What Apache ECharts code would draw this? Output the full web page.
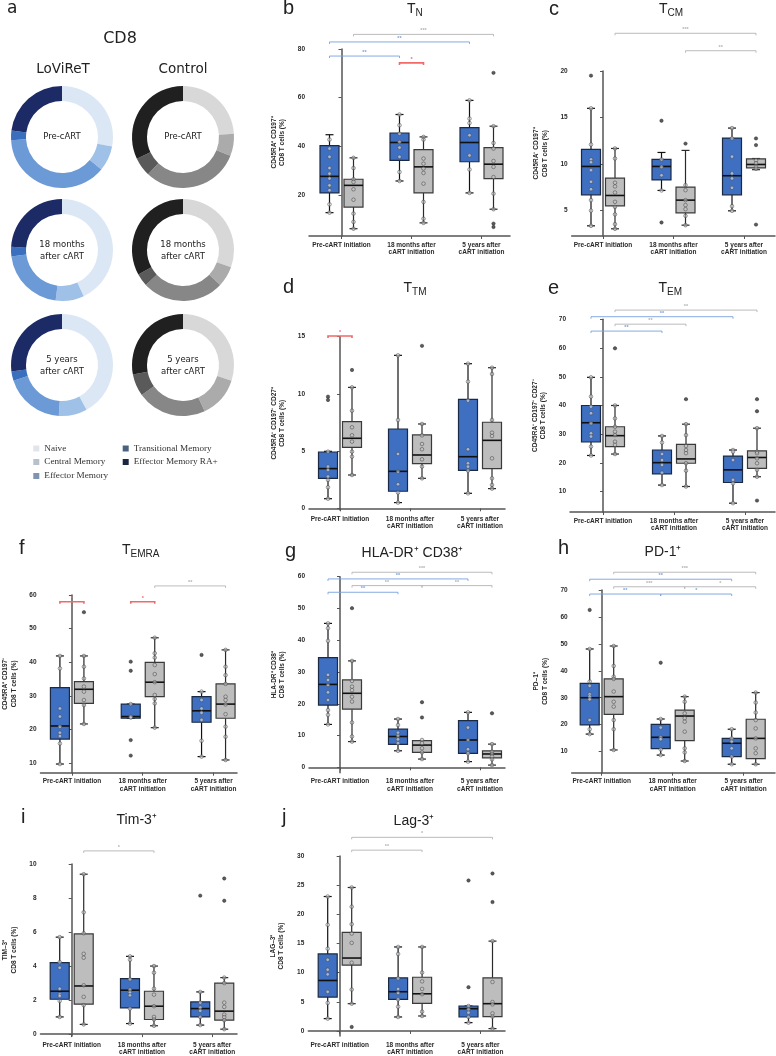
<!DOCTYPE html>
<html><head><meta charset="utf-8">
<script src="https://cdn.jsdelivr.net/npm/echarts@6/dist/echarts.min.js"></script>
<style>html,body{margin:0;padding:0;background:#fff}#c{width:776px;height:1056px}</style>
</head><body><div id="c"></div>
<script>
// ---------- categories / labels ----------
const CATEGORIES = ['Pre-cART initiation', '18 months after\ncART initiation', '5 years after\ncART initiation'];
const SUBSETS = ['Naive', 'Central Memory', 'Effector Memory', 'Transitional Memory', 'Effector Memory RA+'];

// ---------- panel a: donut shares (%) in SUBSETS order ----------
const DONUT_LOV_PRE = [28, 8, 38, 3, 23];
const DONUT_LOV_18M = [43, 9, 21, 3, 24];
const DONUT_LOV_5Y = [42, 9, 19, 3, 27];
const DONUT_CTL_PRE = [24, 7, 31, 6, 32];
const DONUT_CTL_18M = [30.5, 6.5, 26, 4, 33];
const DONUT_CTL_5Y = [30, 13, 22, 7, 28];

// ---------- box stats: [low whisker, Q1, median, Q3, high whisker] per timepoint ----------
// points / outliers per timepoint; sig = [cat1, group1, cat2, group2, y, label]
// b  T_N
const B_TICKS = [20, 40, 60, 80];
const B_LOV_BOX = [[12.8, 20.9, 27.7, 40.3, 44.8], [25.8, 34.3, 41.6, 45.5, 53.1], [20.9, 33.7, 41.6, 47.7, 58.9]];
const B_CTL_BOX = [[6.2, 15.1, 24.0, 26.5, 35.3], [8.6, 20.9, 31.6, 38.7, 43.9], [14.2, 26.8, 32.7, 39.5, 48.3]];
const B_LOV_PTS = [[42.8, 39.1, 35.7, 31.1, 28.8, 26.8, 24.0, 22.0, 16.2, 12.8], [53.1, 48.7, 45.2, 41.8, 39.5, 35.7, 29.5, 25.8], [58.9, 51.4, 49.6, 44.6, 36.3, 30.5, 20.9]];
const B_CTL_PTS = [[35.3, 31.1, 26.5, 25.4, 22.4, 18.1, 12.4, 9.0, 6.2], [43.9, 42.8, 35.0, 32.9, 30.9, 29.1, 24.7, 17.2, 10.3, 8.6], [48.3, 41.4, 39.1, 34.0, 31.6, 27.4, 20.6, 14.2]];
const B_LOV_OUT = [[], [], []];
const B_CTL_OUT = [[], [], [70.2, 8.3, 6.9]];
const B_SIG = [[0, 'C', 2, 'C', 86.0, '***'], [0, 'L', 2, 'L', 82.9, '**'], [0, 'L', 1, 'L', 77.1, '**'], [1, 'L', 1, 'C', 74.3, '*']];
// c  T_CM
const C_TICKS = [5, 10, 15, 20];
const C_LOV_BOX = [[3.37, 6.70, 9.75, 11.58, 15.99], [7.17, 8.3, 9.75, 10.5, 11.25], [4.98, 6.7, 8.75, 12.8, 13.87]];
const C_CTL_BOX = [[3.05, 5.52, 6.63, 8.5, 11.68], [3.44, 4.77, 6.13, 7.53, 11.47], [9.4, 9.6, 9.96, 10.57, 10.6]];
const C_LOV_PTS = [[15.99, 12.1, 10.5, 10.2, 9.35, 8.1, 7.3, 6.13, 5.0, 3.37], [10.5, 9.7, 8.8, 7.17], [13.87, 12.76, 10.8, 9.0, 8.46, 7.45, 5.48, 4.98]];
const C_CTL_PTS = [[11.68, 10.6, 8.0, 7.6, 6.95, 5.95, 5.4, 4.6, 3.55, 3.05], [7.74, 7.2, 6.13, 5.6, 5.16, 4.44, 3.44], [10.4, 10.1, 9.7, 9.5]];
const C_LOV_OUT = [[19.5], [14.66, 3.73], []];
const C_CTL_OUT = [[], [12.2], [12.76, 12.04, 3.5]];
const C_SIG = [[0, 'C', 2, 'C', 24.05, '***'], [1, 'C', 2, 'C', 22.18, '**']];
// d  T_TM
const D_TICKS = [0, 5, 10, 15];
const D_LOV_BOX = [[0.84, 2.62, 3.47, 4.92, 4.98], [0.5, 1.49, 3.23, 6.93, 13.37], [1.31, 3.32, 4.51, 9.52, 12.64]];
const D_CTL_BOX = [[2.91, 5.33, 6.12, 7.57, 10.57], [2.62, 3.9, 4.66, 6.41, 7.37], [1.72, 3.47, 5.94, 7.52, 12.29]];
const D_LOV_PTS = [[4.95, 3.64, 3.35, 2.77, 2.48, 1.84, 0.84], [13.37, 7.72, 4.75, 3.2, 2.1, 1.37, 0.5], [12.64, 11.07, 9.41, 5.16, 3.93, 3.64, 3.29, 1.31]];
const D_CTL_PTS = [[10.57, 8.53, 7.08, 6.38, 5.83, 4.95, 4.51, 2.91], [7.37, 6.38, 5.62, 5.16, 4.28, 3.64, 2.62], [12.29, 11.74, 7.72, 6.61, 6.32, 4.37, 2.62, 2.04, 1.72]];
const D_LOV_OUT = [[9.76, 9.47], [], []];
const D_CTL_OUT = [[12.09], [14.2], []];
const D_SIG = [[0, 'L', 0, 'C', 15.06, '*']];
// e  T_EM
const E_TICKS = [10, 20, 30, 40, 50, 60, 70];
const E_LOV_BOX = [[22.6, 27.3, 34.0, 40.0, 49.8], [12.3, 16.2, 20.1, 24.5, 29.4], [6.0, 13.2, 17.6, 22.4, 24.5]];
const E_CTL_BOX = [[23.1, 25.7, 29.5, 32.6, 40.0], [11.8, 19.9, 21.4, 26.5, 33.5], [15.2, 18.1, 21.9, 24.2, 32.1]];
const E_LOV_PTS = [[49.8, 43.1, 39.6, 37.3, 33.8, 30.3, 29.2, 25.7, 22.6], [29.4, 27.1, 23.1, 21.0, 19.3, 16.6, 12.3], [24.5, 23.9, 21.0, 14.1, 12.9, 6.0]];
const E_CTL_PTS = [[40.0, 35.5, 32.6, 30.9, 29.7, 27.4, 26.3, 23.1], [33.5, 29.7, 25.9, 24.5, 23.4, 19.9, 17.3, 11.8], [32.1, 23.9, 23.4, 21.6, 19.9, 17.6, 15.2]];
const E_LOV_OUT = [[], [], []];
const E_CTL_OUT = [[59.9], [42.2], [42.2, 38.0, 6.9]];
const E_SIG = [[0, 'C', 2, 'C', 73.2, '**'], [0, 'L', 2, 'L', 70.9, '**'], [0, 'C', 1, 'C', 68.3, '**'], [0, 'L', 1, 'L', 65.9, '**']];
// f  T_EMRA
const F_TICKS = [10, 20, 30, 40, 50, 60];
const F_LOV_BOX = [[9.8, 17.2, 21.1, 32.5, 41.9], [23.4, 23.4, 23.9, 27.6, 27.6], [12.0, 22.2, 25.6, 29.8, 31.3]];
const F_CTL_BOX = [[21.7, 27.8, 32.0, 34.3, 41.9], [20.6, 29.8, 34.1, 40.0, 47.3], [11.0, 23.4, 27.6, 33.6, 43.7]];
const F_LOV_PTS = [[41.9, 38.2, 26.3, 23.9, 20.9, 19.1, 18.1, 15.9, 9.8], [27.6, 23.9, 23.6], [31.3, 28.8, 26.3, 25.0, 22.9, 16.7, 12.0]];
const F_CTL_PTS = [[41.9, 38.7, 35.2, 32.8, 31.3, 28.8, 27.3, 21.7], [47.3, 42.7, 41.4, 39.2, 36.5, 34.1, 30.3, 29.1, 27.8, 20.6], [43.7, 38.7, 36.2, 33.6, 29.8, 28.8, 27.5, 24.6, 20.9, 17.9, 11.0]];
const F_LOV_OUT = [[], [40.2, 37.5, 16.9, 12.3], [42.2]];
const F_CTL_OUT = [[54.9], [], []];
const F_SIG = [[0, 'L', 0, 'C', 58.0, '*'], [1, 'L', 1, 'C', 58.0, '*'], [1, 'C', 2, 'C', 62.7, '**']];
// g  HLA-DR+ CD38+
const G_TICKS = [0, 10, 20, 30, 40, 50, 60];
const G_LOV_BOX = [[13.5, 19.6, 26.1, 34.5, 45.3], [5.2, 7.2, 9.7, 12.0, 15.2], [1.8, 4.4, 8.6, 14.7, 17.3]];
const G_CTL_BOX = [[8.1, 18.3, 23.3, 27.5, 33.5], [2.6, 4.7, 7.0, 8.4, 8.4], [0.7, 3.0, 4.2, 5.2, 7.3]];
const G_LOV_PTS = [[45.3, 43.8, 39.8, 29.1, 27.5, 25.9, 23.6, 21.2, 18.0, 16.5, 13.5], [15.2, 13.3, 10.9, 9.9, 8.8, 7.6, 5.2], [17.3, 12.5, 8.6, 5.7, 4.4, 1.8]];
const G_CTL_PTS = [[33.5, 27.2, 25.4, 24.3, 22.2, 20.7, 14.1, 9.7, 8.1], [8.6, 7.6, 6.0, 4.7, 2.6], [7.3, 4.9, 4.2, 3.4, 2.5, 0.7]];
const G_LOV_OUT = [[], [], []];
const G_CTL_OUT = [[50.1], [20.5, 15.7], [17.0]];
const G_SIG = [[0, 'C', 2, 'C', 61.4, '***'], [0, 'L', 2, 'L', 59.3, '**'], [0, 'C', 1, 'C', 57.2, '**'], [1, 'C', 2, 'C', 57.2, '**'], [0, 'L', 1, 'L', 55.1, '**']];
// h  PD-1+
const H_TICKS = [10, 20, 30, 40, 50, 60, 70];
const H_LOV_BOX = [[16.5, 19.9, 30.0, 35.3, 48.1], [8.7, 11.1, 15.3, 20.1, 22.1], [5.3, 8.1, 13.1, 14.9, 18.3]];
const H_CTL_BOX = [[10.6, 23.8, 30.4, 37.0, 49.2], [6.5, 14.1, 23.2, 25.4, 30.4], [5.3, 7.4, 14.9, 22.0, 31.9]];
const H_LOV_PTS = [[48.1, 36.0, 34.4, 31.3, 30.4, 29.4, 21.7, 18.3, 16.5], [22.1, 18.9, 15.3, 14.6, 10.8, 8.7], [18.3, 14.9, 13.7, 11.2, 8.1, 5.3]];
const H_CTL_PTS = [[49.2, 41.8, 37.8, 37.0, 32.3, 28.5, 26.7, 21.7, 18.3, 10.6], [30.4, 28.5, 24.2, 22.4, 21.1, 17.4, 11.2, 9.7, 6.5], [31.9, 28.2, 24.5, 21.7, 18.6, 14.9, 11.2, 9.4, 5.3]];
const H_LOV_OUT = [[62.6], [43.0], []];
const H_CTL_OUT = [[], [], []];
const H_SIG = [[0, 'C', 2, 'C', 76.6, '***'], [0, 'L', 2, 'L', 74.0, '**'], [0, 'C', 1, 'C', 71.2, '***'], [1, 'C', 2, 'C', 71.2, '*'], [0, 'L', 1, 'L', 68.5, '**'], [1, 'L', 2, 'L', 68.5, '*']];
// i  Tim-3+
const I_TICKS = [0, 2, 4, 6, 8, 10];
const I_LOV_BOX = [[1.01, 2.05, 2.52, 4.2, 5.70], [0.62, 1.54, 2.58, 3.26, 4.57], [0.53, 1.01, 1.50, 1.89, 2.48]];
const I_CTL_BOX = [[0.57, 1.76, 2.83, 5.89, 9.40], [0.49, 0.86, 1.64, 2.52, 4.0], [0.29, 0.82, 1.35, 3.0, 3.32]];
const I_LOV_PTS = [[5.70, 4.23, 3.9, 2.67, 2.34, 2.24, 1.95, 1.01], [4.57, 4.37, 3.22, 2.61, 2.44, 2.28, 1.5, 0.62], [2.48, 1.85, 1.56, 1.37, 1.01, 0.53]];
const I_CTL_PTS = [[9.40, 7.16, 5.93, 4.72, 4.49, 2.87, 2.19, 1.70, 0.57], [4.0, 3.61, 2.67, 2.32, 1.64, 1.01, 0.86, 0.49], [3.32, 3.0, 1.85, 1.6, 1.15, 1.0, 0.82, 0.29]];
const I_LOV_OUT = [[], [], [8.14]];
const I_CTL_OUT = [[], [], [9.15, 7.84]];
const I_SIG = [[0, 'C', 1, 'C', 10.77, '*']];
// j  Lag-3+
const J_TICKS = [0, 5, 10, 15, 20, 25, 30];
const J_LOV_BOX = [[2.11, 5.81, 8.65, 13.2, 23.05], [2.39, 5.41, 6.72, 9.1, 14.4], [1.42, 2.39, 3.81, 4.27, 4.27]];
const J_CTL_BOX = [[4.67, 11.3, 12.5, 16.9, 24.6], [2.56, 4.72, 6.37, 9.2, 14.4], [0.4, 2.45, 4.67, 9.1, 15.4]];
const J_LOV_PTS = [[23.05, 18.2, 14.1, 12.2, 10.5, 9.7, 6.7, 4.8, 2.11], [14.4, 13.2, 9.0, 7.2, 6.5, 5.41, 4.15, 2.39], [4.27, 3.7, 3.13, 2.39, 1.42]];
const J_CTL_PTS = [[24.6, 21.3, 18.3, 16.7, 15.1, 11.7, 7.1, 4.67], [14.4, 10.0, 8.5, 7.2, 6.3, 3.3, 2.56], [15.4, 8.4, 4.95, 4.55, 3.0, 2.45, 0.4]];
const J_LOV_OUT = [[], [], [25.8, 7.5]];
const J_CTL_OUT = [[0.68], [], [27.0, 22.1]];
const J_SIG = [[0, 'C', 2, 'C', 33.2, '*'], [0, 'C', 1, 'C', 31.0, '**']];

// ---------- styling / layout ----------
const FONT = 'Liberation Sans';
const LOV_COLORS = ['#dce7f6', '#9fc0e7', '#6c9ad6', '#3a6fbd', '#1c2a66'];
const CTL_COLORS = ['#d8d8d8', '#ababab', '#878787', '#5a5a5a', '#202020'];
const LEGEND_COLORS = ['#e1e5ea', '#b7c0cb', '#7f94b0', '#4b6180', '#1d2641'];
const GROUP_STYLE = [
  { fill: '#3e6fc0', stroke: '#1b2a44', whisker: '#111' },
  { fill: '#bdbdbd', stroke: '#3a3a3a', whisker: '#2a2a2a' }
];
const SIG_COLOR = { L: '#78a2e0', C: '#b3b3b3', X: '#f06a6a' };
const OFF = 12, HW = 9.5, CW = 4;

const PANELS = [
  { box: [B_LOV_BOX, B_CTL_BOX], pts: [B_LOV_PTS, B_CTL_PTS], out: [B_LOV_OUT, B_CTL_OUT], sig: B_SIG, ticks: B_TICKS,
    yName: 'CD45RA\u207A CD197\u207A\nCD8 T cells (%)', L: { ax: 309, c0: 341.5, step: 70, xEnd: 510, top: 49, bottom: 236, yTop: 80, pxu: 2.435 } },
  { box: [C_LOV_BOX, C_CTL_BOX], pts: [C_LOV_PTS, C_CTL_PTS], out: [C_LOV_OUT, C_CTL_OUT], sig: C_SIG, ticks: C_TICKS,
    yName: 'CD45RA\u207B CD197\u207A\nCD8 T cells (%)', L: { ax: 571.7, c0: 603, step: 70.5, xEnd: 775, top: 71, bottom: 236, yTop: 20, pxu: 9.31 } },
  { box: [D_LOV_BOX, D_CTL_BOX], pts: [D_LOV_PTS, D_CTL_PTS], out: [D_LOV_OUT, D_CTL_OUT], sig: D_SIG, ticks: D_TICKS,
    yName: 'CD45RA\u207B CD197\u207B CD27\u207A\nCD8 T cells (%)', L: { ax: 309, c0: 340, step: 70, xEnd: 505, top: 336.7, bottom: 510, yTop: 15, pxu: 11.44 } },
  { box: [E_LOV_BOX, E_CTL_BOX], pts: [E_LOV_PTS, E_CTL_PTS], out: [E_LOV_OUT, E_CTL_OUT], sig: E_SIG, ticks: E_TICKS,
    yName: 'CD45RA\u207B CD197\u207B CD27\u207B\nCD8 T cells (%)', L: { ax: 570, c0: 603, step: 71, xEnd: 775, top: 319.3, bottom: 512, yTop: 70, pxu: 2.873 } },
  { box: [F_LOV_BOX, F_CTL_BOX], pts: [F_LOV_PTS, F_CTL_PTS], out: [F_LOV_OUT, F_CTL_OUT], sig: F_SIG, ticks: F_TICKS,
    yName: 'CD45RA\u207A CD197\u207B\nCD8 T cells (%)', L: { ax: 40, c0: 71.5, step: 71, xEnd: 237, top: 595, bottom: 772.7, yTop: 60, pxu: 3.367 } },
  { box: [G_LOV_BOX, G_CTL_BOX], pts: [G_LOV_PTS, G_CTL_PTS], out: [G_LOV_OUT, G_CTL_OUT], sig: G_SIG, ticks: G_TICKS,
    yName: 'HLA-DR\u207A CD38\u207A\nCD8 T cells (%)', L: { ax: 309, c0: 340, step: 70, xEnd: 505, top: 576.7, bottom: 772.7, yTop: 60, pxu: 3.177 } },
  { box: [H_LOV_BOX, H_CTL_BOX], pts: [H_LOV_PTS, H_CTL_PTS], out: [H_LOV_OUT, H_CTL_OUT], sig: H_SIG, ticks: H_TICKS,
    yName: 'PD\u20131\u207A\nCD8 T cells (%)', L: { ax: 571.7, c0: 601.7, step: 71, xEnd: 775, top: 590, bottom: 772.7, yTop: 70, pxu: 2.693 } },
  { box: [I_LOV_BOX, I_CTL_BOX], pts: [I_LOV_PTS, I_CTL_PTS], out: [I_LOV_OUT, I_CTL_OUT], sig: I_SIG, ticks: I_TICKS,
    yName: 'TIM\u20133\u207A\nCD8 T cells (%)', L: { ax: 39.3, c0: 70.7, step: 70.7, xEnd: 237, top: 864, bottom: 1036.7, yTop: 10, pxu: 17.08 } },
  { box: [J_LOV_BOX, J_CTL_BOX], pts: [J_LOV_PTS, J_CTL_PTS], out: [J_LOV_OUT, J_CTL_OUT], sig: J_SIG, ticks: J_TICKS,
    yName: 'LAG\u20133\u207A\nCD8 T cells (%)', L: { ax: 308.3, c0: 339.7, step: 70.4, xEnd: 505, top: 856, bottom: 1036.7, yTop: 30, pxu: 5.853 } }
];

function boxRender(g) {
  const st = GROUP_STYLE[g];
  const dx = g === 0 ? -OFF : OFF;
  return function (params, api) {
    const x = api.value(0);
    const lo = api.coord([x, api.value(1)]);
    const q1 = api.coord([x, api.value(2)]);
    const md = api.coord([x, api.value(3)]);
    const q3 = api.coord([x, api.value(4)]);
    const hi = api.coord([x, api.value(5)]);
    const cx = lo[0] + dx;
    const ls = { stroke: st.whisker, lineWidth: 1.2 };
    return { type: 'group', children: [
      { type: 'line', shape: { x1: cx, y1: hi[1], x2: cx, y2: q3[1] }, style: ls },
      { type: 'line', shape: { x1: cx, y1: q1[1], x2: cx, y2: lo[1] }, style: ls },
      { type: 'line', shape: { x1: cx - CW, y1: hi[1], x2: cx + CW, y2: hi[1] }, style: ls },
      { type: 'line', shape: { x1: cx - CW, y1: lo[1], x2: cx + CW, y2: lo[1] }, style: ls },
      { type: 'rect', shape: { x: cx - HW, y: q3[1], width: 2 * HW, height: Math.max(q1[1] - q3[1], 0.5) },
        style: { fill: st.fill, stroke: st.stroke, lineWidth: 1.2 } },
      { type: 'line', shape: { x1: cx - HW, y1: md[1], x2: cx + HW, y2: md[1] }, style: { stroke: '#111', lineWidth: 1.6 } }
    ] };
  };
}

function sigRender(sig) {
  return function (params, api) {
    const s = sig[params.dataIndex];
    const p1 = api.coord([s[0], s[4]]);
    const p2 = api.coord([s[2], s[4]]);
    const x1 = p1[0] + (s[1] === 'L' ? -OFF : OFF);
    const x2 = p2[0] + (s[3] === 'L' ? -OFF : OFF);
    const kind = s[1] === s[3] ? s[1] : 'X';
    const col = SIG_COLOR[kind];
    const y = p1[1];
    return { type: 'group', children: [
      { type: 'polyline', shape: { points: [[x1, y + 2], [x1, y], [x2, y], [x2, y + 2]] },
        style: { stroke: col, lineWidth: kind === 'X' ? 1.6 : 0.9, fill: null } },
      { type: 'text', x: (x1 + x2) / 2, y: y - 0.5,
        style: { text: s[5], fill: col, fontSize: 5.5, fontFamily: FONT, fontWeight: 'bold',
          align: 'center', verticalAlign: 'bottom', textAlign: 'center', textVerticalAlign: 'bottom' } }
    ] };
  };
}

const grids = [], xAxes = [], yAxes = [], series = [];
const axisColor = '#555';
PANELS.forEach(function (p, i) {
  const L = p.L;
  grids.push({ left: L.ax, top: L.top, width: L.xEnd - L.ax, height: L.bottom - L.top });
  const xmin = (L.ax - L.c0) / L.step, xmax = (L.xEnd - L.c0) / L.step;
  const ymin = L.yTop - (L.bottom - L.top) / L.pxu;
  xAxes.push({
    type: 'value', gridIndex: i, min: xmin, max: xmax,
    axisLine: { show: true, lineStyle: { color: axisColor, width: 1.5 } },
    axisTick: { show: true, length: 3, lineStyle: { color: axisColor, width: 1 }, customValues: [0, 1, 2] },
    axisLabel: { customValues: [0, 1, 2], formatter: function (v) { return CATEGORIES[Math.round(v)]; },
      fontSize: 6.5, fontWeight: 'bold', fontFamily: FONT, color: '#2a2a2a', lineHeight: 7.5, margin: 5 },
    splitLine: { show: false }
  });
  yAxes.push({
    type: 'value', gridIndex: i, min: ymin, max: L.yTop,
    axisLine: { show: true, lineStyle: { color: axisColor, width: 1.5 } },
    axisTick: { show: true, length: 3, lineStyle: { color: axisColor, width: 1 }, customValues: p.ticks },
    axisLabel: { customValues: p.ticks, fontSize: 6.5, fontWeight: 'bold', fontFamily: FONT, color: '#2a2a2a', margin: 4 },
    splitLine: { show: false },
    name: p.yName, nameLocation: 'middle', nameRotate: 90, nameGap: 31,
    nameTextStyle: { fontSize: 6.5, fontWeight: 'bold', fontFamily: FONT, color: '#2a2a2a', lineHeight: 8.5,
      align: 'center', verticalAlign: 'middle' }
  });
  [0, 1].forEach(function (g) {
    series.push({ type: 'custom', xAxisIndex: i, yAxisIndex: i, silent: true, z: 2,
      renderItem: boxRender(g),
      data: p.box[g].map(function (b, k) { return [k].concat(b); }) });
  });
  [0, 1].forEach(function (g) {
    const pts = [], outs = [];
    p.pts[g].forEach(function (arr, k) { arr.forEach(function (v) { pts.push([k, v]); }); });
    p.out[g].forEach(function (arr, k) { arr.forEach(function (v) { outs.push([k, v]); }); });
    series.push({ type: 'scatter', xAxisIndex: i, yAxisIndex: i, silent: true, z: 3,
      symbol: 'circle', symbolSize: 3.6, symbolOffset: [g === 0 ? -OFF : OFF, 0],
      itemStyle: { color: g === 0 ? 'rgba(235,240,250,0.7)' : 'rgba(200,200,200,0.7)', borderColor: '#4a4a4a', borderWidth: 0.7 },
      data: pts });
    series.push({ type: 'scatter', xAxisIndex: i, yAxisIndex: i, silent: true, z: 4,
      symbol: 'circle', symbolSize: 3.4, symbolOffset: [g === 0 ? -OFF : OFF, 0],
      itemStyle: { color: '#333', borderColor: '#111', borderWidth: 0.5 },
      data: outs });
  });
  series.push({ type: 'custom', xAxisIndex: i, yAxisIndex: i, silent: true, z: 3, clip: false,
    renderItem: sigRender(p.sig), data: p.sig.map(function (s) { return [s[0], s[4]]; }) });
});

// ---------- panel a donuts ----------
const DONUTS = [
  { d: DONUT_LOV_PRE, c: LOV_COLORS, center: [62, 137] },
  { d: DONUT_LOV_18M, c: LOV_COLORS, center: [62, 250] },
  { d: DONUT_LOV_5Y, c: LOV_COLORS, center: [62, 365] },
  { d: DONUT_CTL_PRE, c: CTL_COLORS, center: [183, 137] },
  { d: DONUT_CTL_18M, c: CTL_COLORS, center: [183, 250] },
  { d: DONUT_CTL_5Y, c: CTL_COLORS, center: [183, 365] }
];
DONUTS.forEach(function (o) {
  series.push({ type: 'pie', silent: true, center: o.center, radius: [36, 51], startAngle: 90, clockwise: true,
    label: { show: false }, labelLine: { show: false },
    data: o.d.map(function (v, k) { return { name: SUBSETS[k], value: v, itemStyle: { color: o.c[k] } }; }) });
});

// ---------- text helpers ----------
function txt(x, y, text, size, opt) {
  opt = opt || {};
  const align = opt.align || 'left';
  return { type: 'text', x: x, y: y, silent: true,
    style: { text: text, fontSize: size, fontFamily: opt.family || FONT, fontWeight: opt.weight || 'normal',
      fill: opt.color || '#222', align: align, verticalAlign: 'middle', textAlign: align, textVerticalAlign: 'middle',
      lineHeight: opt.lh || undefined } };
}
const DJ = { family: 'DejaVu Sans', align: 'center', color: '#222' };
const graphics = [
  txt(7, 9, 'a', 17, { family: 'DejaVu Sans' }),
  txt(120, 39, 'CD8', 16, DJ),
  txt(63, 69, 'LoViReT', 13.5, DJ),
  txt(183, 69, 'Control', 13.5, DJ),
  txt(62, 137, 'Pre-cART', 8.5, DJ),
  txt(183, 137, 'Pre-cART', 8.5, DJ),
  txt(62, 251, '18 months\nafter cART', 8.5, { family: 'DejaVu Sans', align: 'center', lh: 11.5 }),
  txt(183, 251, '18 months\nafter cART', 8.5, { family: 'DejaVu Sans', align: 'center', lh: 11.5 }),
  txt(62, 366, '5 years\nafter cART', 8.5, { family: 'DejaVu Sans', align: 'center', lh: 11.5 }),
  txt(183, 366, '5 years\nafter cART', 8.5, { family: 'DejaVu Sans', align: 'center', lh: 11.5 }),
  // panel letters
  txt(283, 8.5, 'b', 20), txt(549, 9.5, 'c', 20), txt(283, 287.5, 'd', 20), txt(548, 288.5, 'e', 20),
  txt(19, 548, 'f', 20), txt(285, 551.5, 'g', 20), txt(558, 548.5, 'h', 20), txt(21, 817, 'i', 20), txt(282, 817, 'j', 20),
  // titles
  txt(407, 9, 'T', 14), txt(415.6, 13, 'N', 10),
  txt(659, 9, 'T', 14), txt(667.6, 13, 'CM', 10),
  txt(403.5, 288, 'T', 14), txt(412.1, 292, 'TM', 10),
  txt(658.5, 288.5, 'T', 14), txt(667.1, 292.5, 'EM', 10),
  txt(122, 550, 'T', 14), txt(130.6, 554, 'EMRA', 10),
  txt(412.5, 553, 'HLA-DR\u207A CD38\u207A', 14, { align: 'center' }),
  txt(663, 552, 'PD-1\u207A', 14, { align: 'center' }),
  txt(136.7, 820, 'Tim-3\u207A', 14, { align: 'center' }),
  txt(414, 821, 'Lag-3\u207A', 14, { align: 'center' })
];
// legend of panel a
const LEG_POS = [[33.3, 448.5], [33.3, 462], [33.3, 476], [122.7, 448.5], [122.7, 462]];
SUBSETS.forEach(function (s, k) {
  const p = LEG_POS[k];
  graphics.push({ type: 'rect', silent: true, shape: { x: p[0], y: p[1] - 3, width: 6, height: 6 }, style: { fill: LEGEND_COLORS[k] } });
  graphics.push(txt(p[0] + 11, p[1], s, 9.2, { family: 'Liberation Serif', color: '#333' }));
});

const chart = echarts.init(document.getElementById('c'), null, { renderer: 'canvas' });
chart.setOption({
  animation: false,
  backgroundColor: '#ffffff',
  grid: grids, xAxis: xAxes, yAxis: yAxes, series: series,
  graphic: { elements: graphics }
});
</script></body></html>
